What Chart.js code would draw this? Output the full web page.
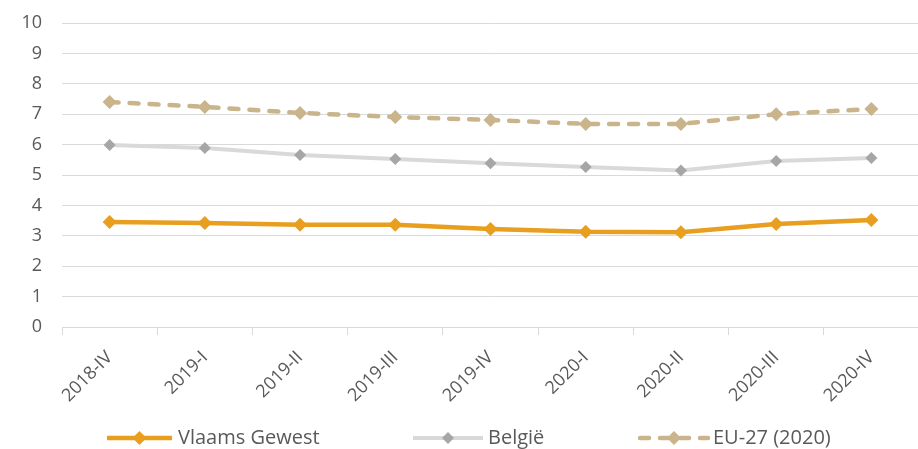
<!DOCTYPE html>
<html>
<head>
<meta charset="utf-8">
<script src="https://cdn.jsdelivr.net/npm/chart.js@4/dist/chart.umd.min.js"></script>
<style>
  html, body { margin: 0; padding: 0; overflow: hidden; background: #fff; }
  #wrap { position: relative; width: 926px; height: 449px; }
</style>
</head>
<body>
<div id="wrap"><canvas id="c"></canvas></div>
<script>
// Quarters on the x axis
const quarters = ['2018-IV', '2019-I', '2019-II', '2019-III', '2019-IV', '2020-I', '2020-II', '2020-III', '2020-IV'];

// Series values (%)
const vlaamsGewest = [3.45, 3.42, 3.36, 3.36, 3.22, 3.13, 3.12, 3.39, 3.52];
const belgie       = [5.99, 5.89, 5.66, 5.53, 5.39, 5.26, 5.15, 5.46, 5.56];
const eu27         = [7.40, 7.24, 7.04, 6.91, 6.81, 6.68, 6.68, 7.00, 7.17];

// Series names
const seriesNames = ['Vlaams Gewest', 'België', 'EU-27 (2020)'];

// Value axis range
const yMin = 0;
const yMax = 10;
const yStep = 1;

const FONT = '"Open Sans", "Noto Sans", sans-serif';
const TEXT = '#595959';

// Legend drawn as a line with a diamond marker followed by the series name
const lineLegend = {
  id: 'lineLegend',
  afterDraw(chart, args, opts) {
    const ctx = chart.ctx;
    const y = opts.y;
    chart.data.datasets.forEach((ds, i) => {
      const item = opts.items[i];
      ctx.save();
      ctx.strokeStyle = ds.borderColor;
      ctx.lineWidth = ds.borderWidth;
      ctx.lineCap = ds.borderCapStyle || 'butt';
      ctx.setLineDash(ds.borderDash || []);
      ctx.beginPath();
      ctx.moveTo(item.x, y);
      ctx.lineTo(item.x + item.w, y);
      ctx.stroke();
      ctx.setLineDash([]);
      const cx = item.x + item.w / 2;
      const r = ds.pointRadius;
      ctx.fillStyle = ds.pointBackgroundColor;
      ctx.beginPath();
      ctx.moveTo(cx, y - r);
      ctx.lineTo(cx + r, y);
      ctx.lineTo(cx, y + r);
      ctx.lineTo(cx - r, y);
      ctx.closePath();
      ctx.fill();
      ctx.fillStyle = TEXT;
      ctx.font = opts.font;
      ctx.textBaseline = 'middle';
      ctx.textAlign = 'left';
      ctx.fillText(ds.label, item.x + item.w + item.gap, y);
      ctx.restore();
    });
  }
};

new Chart(document.getElementById('c'), {
  type: 'line',
  data: {
    labels: quarters,
    datasets: [
      {
        label: seriesNames[0],
        data: vlaamsGewest,
        borderColor: '#E89E1F',
        borderWidth: 4.5,
        pointStyle: 'rectRot',
        pointRadius: 7,
        pointBackgroundColor: '#E89E1F',
        pointBorderWidth: 0,
        tension: 0
      },
      {
        label: seriesNames[1],
        data: belgie,
        borderColor: '#D9D9D9',
        borderWidth: 4,
        pointStyle: 'rectRot',
        pointRadius: 6,
        pointBackgroundColor: '#A6A6A6',
        pointBorderWidth: 0,
        tension: 0
      },
      {
        label: seriesNames[2],
        data: eu27,
        borderColor: '#C9B48B',
        borderWidth: 4.5,
        borderDash: [9, 11],
        borderCapStyle: 'round',
        pointStyle: 'rectRot',
        pointRadius: 7,
        pointBackgroundColor: '#C9B48B',
        pointBorderWidth: 0,
        tension: 0
      }
    ]
  },
  options: {
    responsive: true,
    maintainAspectRatio: false,
    animation: false,
    layout: { padding: { top: 23, left: 0, right: 1, bottom: 0 } },
    plugins: {
      legend: { display: false },
      tooltip: { enabled: false },
      lineLegend: {
        y: 438,
        font: '20px ' + FONT,
        items: [
          { x: 107, w: 65, gap: 6 },
          { x: 413, w: 70, gap: 5 },
          { x: 640, w: 68, gap: 5 }
        ]
      }
    },
    scales: {
      x: {
        offset: true,
        afterFit(s) { s.height = 122; },
        grid: {
          offset: true,
          drawOnChartArea: false,
          drawTicks: true,
          tickLength: 8,
          color: '#D9D9D9'
        },
        border: { display: true, color: '#D9D9D9', width: 1 },
        ticks: {
          minRotation: 45,
          maxRotation: 45,
          padding: 12,
          color: TEXT,
          font: { family: FONT, size: 18 }
        }
      },
      y: {
        min: yMin,
        max: yMax,
        afterFit(s) { s.width = 62; },
        grid: {
          color: '#D9D9D9',
          lineWidth: 1,
          drawTicks: true,
          tickLength: 20,
          tickColor: 'rgba(0,0,0,0)'
        },
        border: { display: false },
        ticks: {
          stepSize: yStep,
          padding: 0,
          color: TEXT,
          font: { family: FONT, size: 18 }
        }
      }
    }
  },
  plugins: [lineLegend]
});
</script>
</body>
</html>
